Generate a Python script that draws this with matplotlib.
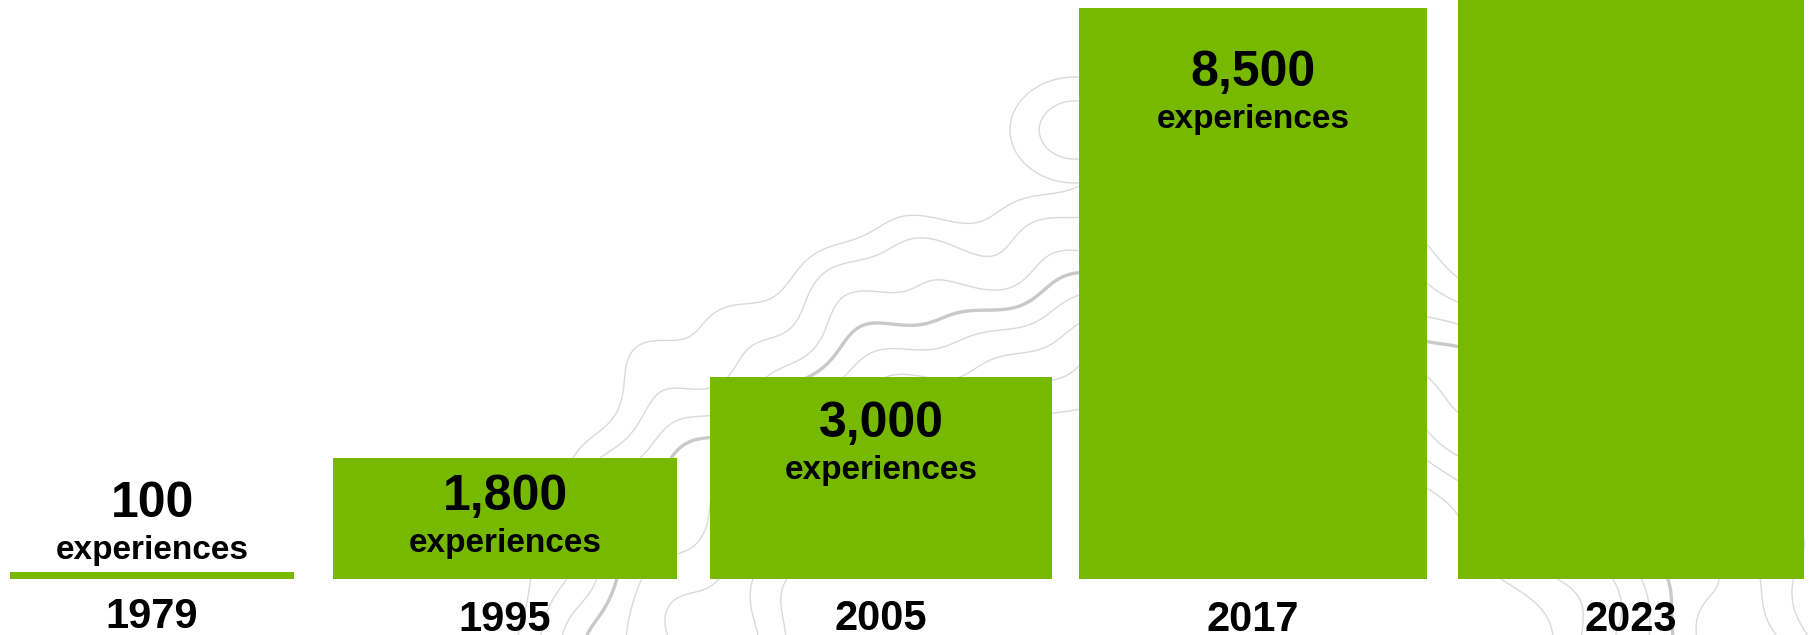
import numpy as np
import matplotlib
matplotlib.use("Agg")
import matplotlib.pyplot as plt

# ---- data ----
years = ["1979", "1995", "2005", "2017", "2023"]
experiences = [100, 1800, 3000, 8500, 10000]
value_labels = ["100", "1,800", "3,000", "8,500", ""]
unit_label = "experiences"

# ---- layout / style ----
GREEN = "#77B900"
DPI = 100
W, H = 18.10, 6.35
slot_pos = [0.0, 0.954, 1.970, 2.976, 3.997]
bar_w = [0.768, 0.930, 0.924, 0.941, 0.935]
# baseline offset of the value label relative to bar top (pixels, + = up)
label_off_px = [55, -52, -60, -78, -78]
line_gap_px = 42
year_off_px = [-49, -52, -51, -52, -52]

plt.rcParams['font.family'] = ['Liberation Sans', 'DejaVu Sans']
fig = plt.figure(figsize=(W, H), dpi=DPI)

# decorative topographic background (pure ornament)
bg = fig.add_axes([0, 0, 1, 1], zorder=0)
bg.set_xlim(0, W * DPI)
bg.set_ylim(H * DPI, 0)
bg.axis('off')
gx, gy = np.meshgrid(np.linspace(0, W * DPI, 724), np.linspace(0, H * DPI, 254))
r = np.sqrt(((gx - 1150) / 1.3) ** 2 + (gy - 700) ** 2)
r = r + 12 * np.sin(gx / 37.0) + 8 * np.sin(gy / 23.0 + gx / 71.0) + 6 * np.cos(gx / 19.0 - gy / 31.0)
loop = np.sqrt(((gx - 1075) / 65.0) ** 2 + ((gy - 130) / 53.0) ** 2)
bg.contour(gx, gy, r, levels=[300, 330, 360, 395, 450, 478, 505],
           colors="#dadada", linewidths=1.0)
bg.contour(gx, gy, r, levels=[425], colors="#c9c9c9", linewidths=2.4)
bg.contour(gx, gy, loop, levels=[0.55, 1.0], colors="#dadada", linewidths=1.0)

ax = fig.add_axes([0, (H * DPI - 579) / (H * DPI), 1, 579 / (H * DPI)], zorder=1)
ax.patch.set_alpha(0)
ymax = 8500 * 579 / 571
ax.set_ylim(0, ymax)
ax.set_xlim(-152 / 370, (1810 - 152) / 370)
ax.axis('off')

ax.bar(slot_pos, experiences, width=bar_w, color=GREEN, clip_on=False)

pt = 72 / DPI
for x, v, lab, off, yr, yoff in zip(slot_pos, experiences, value_labels, label_off_px,
                                    years, year_off_px):
    if v <= ymax and lab:
        ax.annotate(lab, xy=(x, v), xytext=(0, off * pt), textcoords='offset points',
                    ha='center', va='baseline', fontsize=36, fontweight='bold')
        ax.annotate(unit_label, xy=(x, v), xytext=(0, (off - line_gap_px) * pt),
                    textcoords='offset points', ha='center', va='baseline',
                    fontsize=24, fontweight='bold')
    ax.annotate(yr, xy=(x, 0), xytext=(0, yoff * pt), textcoords='offset points',
                ha='center', va='baseline', fontsize=30, fontweight='bold',
                annotation_clip=False)

fig.savefig("out.png", dpi=DPI)
